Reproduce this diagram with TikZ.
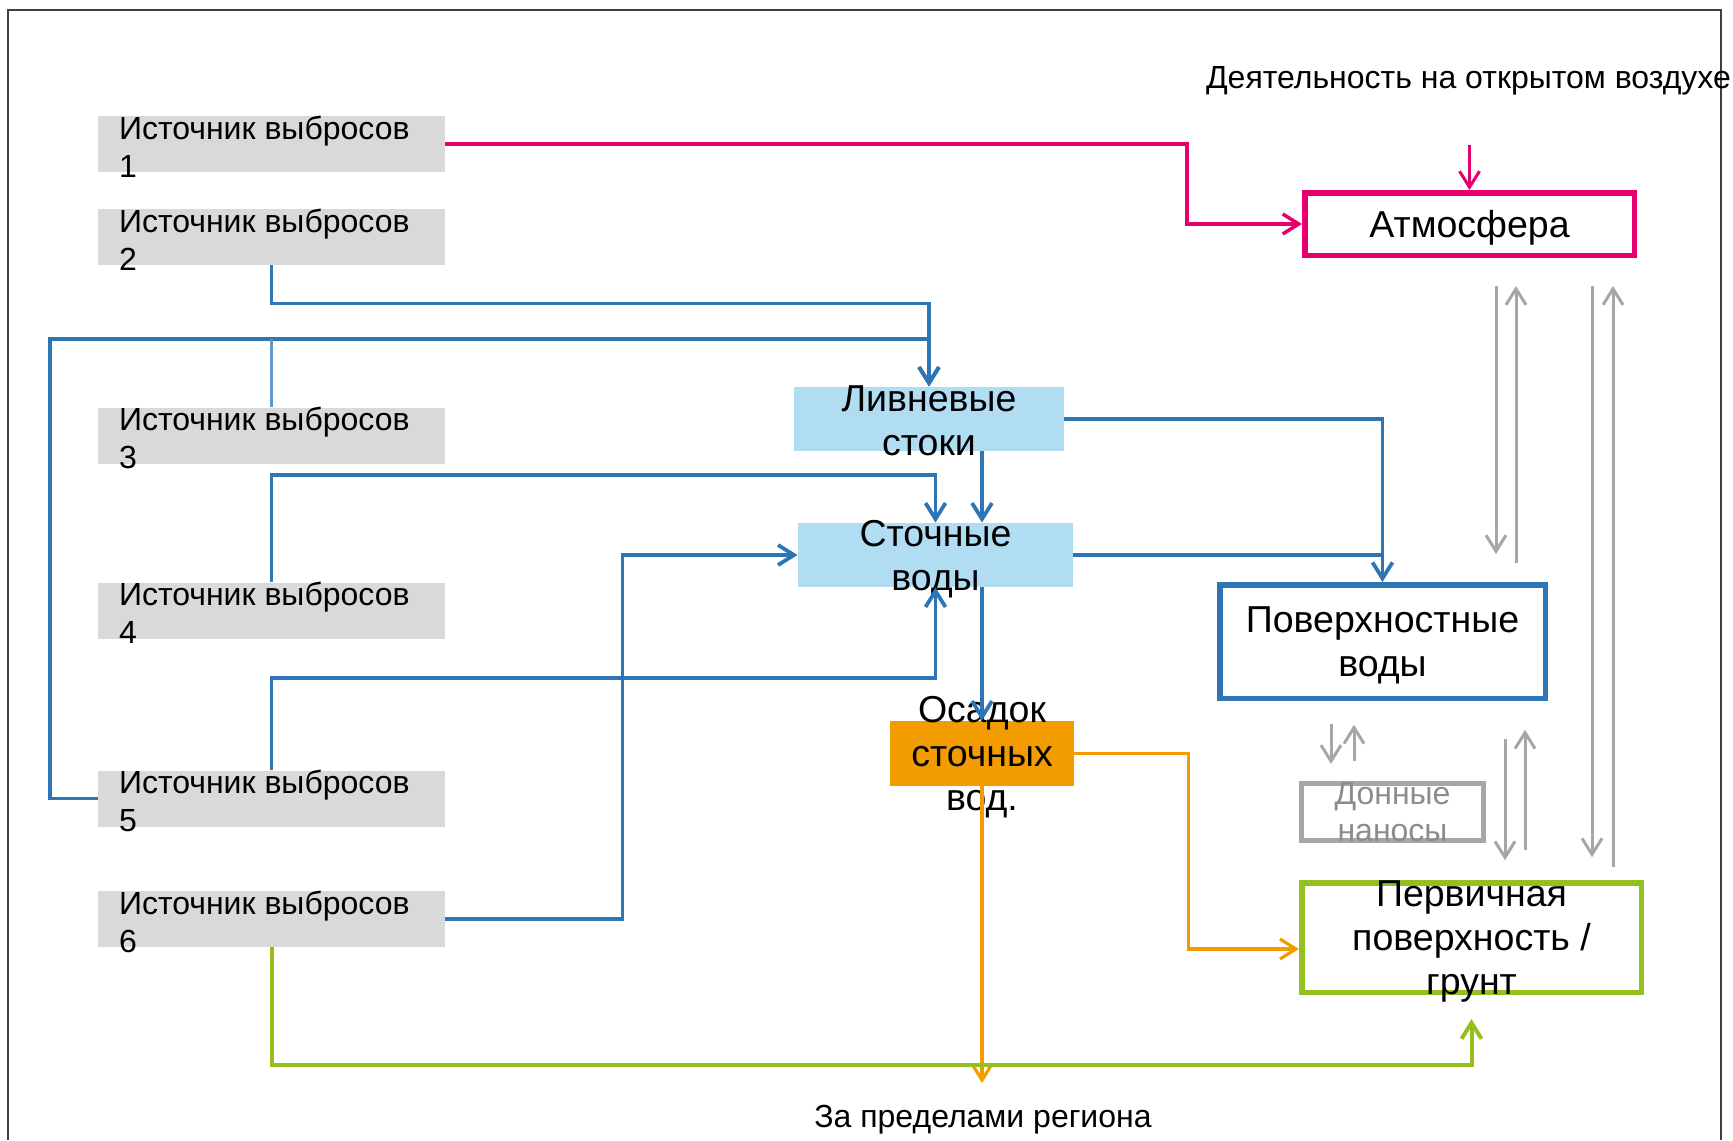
\documentclass[tikz,border=0pt]{standalone}
\usepackage{fontspec}
\setmainfont{Liberation Sans}
\usetikzlibrary{arrows.meta,positioning,calc}

\definecolor{pinkline}{HTML}{E5006E}
\definecolor{flowblue}{HTML}{2E75B6}
\definecolor{paleblue}{HTML}{B1DDF3}
\definecolor{sludgeorange}{HTML}{F39C00}
\definecolor{soilgreen}{HTML}{93C01F}
\definecolor{exchgray}{HTML}{A6A6A6}
\definecolor{srcgray}{HTML}{D9D9D9}

\begin{document}
\begin{tikzpicture}[x=0.5pt,y=-0.5pt,
    >={Straight Barb[length=8pt,width=10pt]},
    srcbox/.style={fill=srcgray,minimum width=173.5pt,minimum height=28pt,inner sep=0pt},
    srctext/.style={anchor=north west,inner sep=0pt,align=left,font=\fontsize{16}{19}\selectfont},
    bigtext/.style={inner sep=0pt,align=center,yshift=-2pt,font=\fontsize{18.75}{22}\selectfont},
    flowbox/.style={fill=paleblue,inner sep=0pt},
    mediumbox/.style={draw,line width=2.75pt,inner sep=0pt},
    bluearrow/.style={flowblue,line width=1.9pt},
    orangeline/.style={sludgeorange,line width=1.6pt},
    greenline/.style={soilgreen,line width=2pt},
    grayarrow/.style={exchgray,line width=1.5pt,->}
  ]
  \useasboundingbox (0,0) rectangle (1733,1140);

  % frame
  \draw[black!75,line width=1pt] (8,1140) |- (1721,10) -- (1721,1140);

  % emission sources
  \node[srcbox] (s1) at (271.5,144) {};
  \node[srcbox] (s2) at (271.5,237) {};
  \node[srcbox] (s3) at (271.5,435.5) {};
  \node[srcbox] (s4) at (271.5,610.5) {};
  \node[srcbox] (s5) at (271.5,798.5) {};
  \node[srcbox] (s6) at (271.5,919) {};
  \node[srctext] (t1) at ([xshift=10.5pt]s1.north west) {Источник выбросов\\1};
  \node[srctext] (t2) at ([xshift=10.5pt]s2.north west) {Источник выбросов\\2};
  \node[srctext] (t3) at ([xshift=10.5pt]s3.north west) {Источник выбросов\\3};
  \node[srctext] (t4) at ([xshift=10.5pt]s4.north west) {Источник выбросов\\4};
  \node[srctext] (t5) at ([xshift=10.5pt]s5.north west) {Источник выбросов\\5};
  \node[srctext] (t6) at ([xshift=10.5pt]s6.north west) {Источник выбросов\\6};

  % compartments
  \node[mediumbox,draw=pinkline,minimum width=164.75pt,minimum height=31.25pt,text depth=0pt,
        font=\fontsize{18.75}{22}\selectfont] (atm) at (1469.5,224) {Атмосфера};
  \node[flowbox,minimum width=135pt,minimum height=32pt] (storm) at (929,419) {};
  \node[flowbox,minimum width=137.5pt,minimum height=32pt] (sewage) at (935.5,555) {};
  \node[fill=sludgeorange,inner sep=0pt,minimum width=92pt,minimum height=32.5pt] (sludge) at (982,753.5) {};
  \node[mediumbox,draw=flowblue,minimum width=162.75pt,minimum height=56.75pt] (surface) at (1382.5,641.5) {};
  \node[mediumbox,draw=exchgray,minimum width=91pt,minimum height=28.5pt] (sediment) at (1392.5,812) {};
  \node[mediumbox,draw=soilgreen,minimum width=169.75pt,minimum height=54.75pt] (soil) at (1471.5,937.5) {};

  \node[bigtext,yshift=1pt] (stormtxt) at (storm) {Ливневые\\стоки};
  \node[bigtext] (sewagetxt) at (sewage) {Сточные\\воды};
  \node[bigtext] (sludgetxt) at (sludge) {Осадок\\сточных\\вод.};
  \node[bigtext] (surfacetxt) at (surface) {Поверхностные\\воды};
  \node[bigtext] (soiltxt) at (soil) {Первичная\\поверхность /\\грунт};
  \node[inner sep=0pt,align=center,text=black!45,font=\fontsize{16}{18.5}\selectfont]
        (sedimenttxt) at (sediment) {Донные\\наносы};

  % free texts
  \node[anchor=base,inner sep=0pt,font=\fontsize{16}{19}\selectfont] (outdoor) at (1468.5,88)
        {Деятельность на открытом воздухе};
  \node[anchor=base,inner sep=0pt,font=\fontsize{16}{19}\selectfont] (beyond) at (983,1127)
        {За пределами региона};

  % to the atmosphere
  \draw[pinkline,line width=1.75pt,->] (s1.east) -- (1187,144) |- (atm.west);
  \coordinate (outarr) at (1469.5,145);
  \draw[pinkline,line width=1.5pt,->] (outarr) -- (atm.north);

  % storm water
  \draw[bluearrow,->] (s2.south) -- ++(0,38) -| (storm.north);
  \draw[bluearrow,->] (s5.west) -| (50,339) -| (storm.north);
  \draw[bluearrow,flowblue!75!white] (s3.north) -- (s3.north |- 50,339);

  % waste water
  \draw[bluearrow,->] (storm.south -| sludge.north) -- (sewage.north -| sludge.north);
  \draw[bluearrow,->] (s4.north) -- ++(0,-107) -| (sewage.north);
  \draw[bluearrow,->] (s5.north) -- ++(0,-92) -| (sewage.south);
  \draw[bluearrow,->] (s6.east) -- ++(177,0) |- (sewage.west);

  % surface water
  \draw[bluearrow,->] (storm.east) -| (surface.north);
  \draw[bluearrow] (sewage.east) -- (sewage.east -| surface.north);

  % sludge
  \draw[bluearrow,->] (sewage.south -| sludge.north) -- (sludge.north);
  \draw[orangeline,->] (sludge.east) -- ++(114,0) |- ([yshift=-5.75pt]soil.west);
  \coordinate (outside) at (982,1083);
  \draw[orangeline,->] (sludge.south) -- (outside);

  % soil
  \draw[greenline,->] (s6.south) -- ++(0,118) -| ([yshift=-12pt]soil.south);

  % exchange between compartments
  \draw[grayarrow,shorten <=14pt,shorten >=14pt] (atm.south -| 1496,0) -- (surface.north -| 1496,0);
  \draw[grayarrow,shorten <=9.4pt,shorten >=14pt] (surface.north -| 1516,0) -- (atm.south -| 1516,0);
  \draw[grayarrow,shorten <=14pt,shorten >=11.4pt] (atm.south -| 1592,0) -- (soil.north -| 1592,0);
  \draw[grayarrow,shorten <=6.4pt,shorten >=14pt] (soil.north -| 1613,0) -- (atm.south -| 1613,0);
  \draw[grayarrow,shorten <=18.9pt,shorten >=9.9pt] (surface.south -| 1505,0) -- (soil.north -| 1505,0);
  \draw[grayarrow,shorten <=14.9pt,shorten >=14.4pt] (soil.north -| 1525,0) -- (surface.south -| 1525,0);
  \draw[grayarrow,shorten <=11.4pt,shorten >=8.4pt] (surface.south -| 1331,0) -- (sediment.north -| 1331,0);
  \draw[grayarrow,shorten <=9.9pt,shorten >=11.9pt] (sediment.north -| 1354,0) -- (surface.south -| 1354,0);
\end{tikzpicture}
\end{document}
